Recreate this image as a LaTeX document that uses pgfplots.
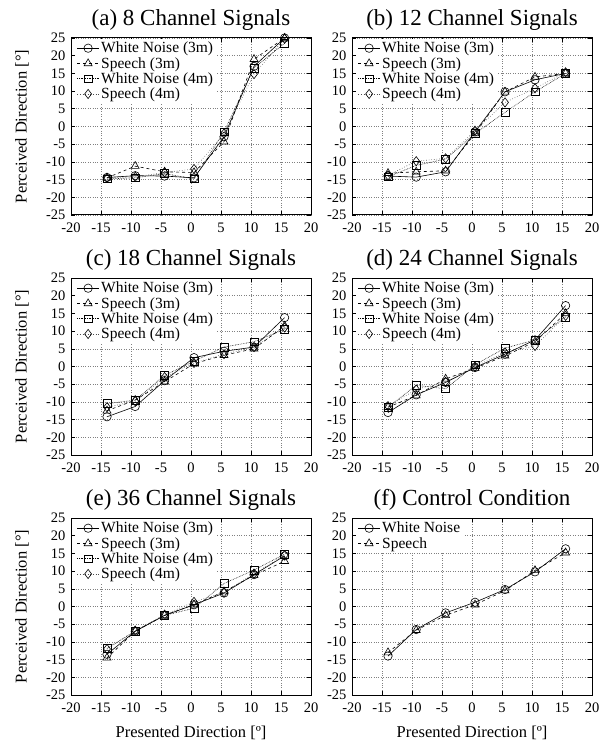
\documentclass[border=0pt]{standalone}
\usepackage{fontspec}
\setmainfont{Liberation Serif}
\usepackage{pgfplots}
\pgfplotsset{compat=1.18}
\usepackage{pgfplotstable}
\usepgfplotslibrary{groupplots}
\usetikzlibrary{calc}

\pgfplotstableread{
x wn3 s3 wn4 s4
-14.0 -14.4 -14.5 -14.8 -14.5
-9.3 -13.9 -11.2 -14.5 -14.2
-4.4 -14.0 -12.8 -13.3 -13.0
0.5 -14.5 -13.0 -14.8 -12.0
5.5 -2.9 -4.3 -1.5 -2.0
10.5 17.0 19.0 16.5 14.8
15.6 25.0 25.0 23.5 24.8
}\tabA
\pgfplotstableread{
x wn3 s3 wn4 s4
-14.0 -14.0 -13.2 -14.2 -13.8
-9.3 -14.3 -12.8 -11.0 -9.8
-4.4 -12.8 -12.5 -9.2 -9.0
0.5 -1.5 -2.0 -2.0 -1.2
5.5 9.8 9.8 4.0 6.8
10.5 13.2 14.0 9.8 10.8
15.6 15.0 15.0 15.0 15.3
}\tabB
\pgfplotstableread{
x wn3 s3 wn4 s4
-14.0 -14.2 -12.5 -10.5 -11.5
-9.3 -11.3 -9.5 -9.5 -9.8
-4.4 -4.0 -4.3 -2.5 -3.0
0.5 2.5 0.8 1.5 1.0
5.5 4.3 3.2 5.5 3.5
10.5 5.5 5.0 7.0 5.5
15.6 13.8 11.5 10.5 11.0
}\tabC
\pgfplotstableread{
x wn3 s3 wn4 s4
-14.0 -13.0 -11.5 -11.5 -11.2
-9.3 -8.0 -8.2 -5.3 -6.5
-4.4 -4.5 -3.5 -6.3 -4.3
0.5 -0.3 -0.5 0.5 0.0
5.5 3.5 3.0 5.2 4.0
10.5 7.5 7.0 7.5 5.8
15.6 17.2 15.0 14.0 14.3
}\tabD
\pgfplotstableread{
x wn3 s3 wn4 s4
-14.0 -13.5 -14.5 -11.8 -12.0
-9.3 -7.0 -7.0 -7.0 -6.8
-4.4 -2.5 -2.5 -2.5 -2.3
0.5 0.5 0.5 -0.5 1.3
5.5 3.8 4.2 6.5 4.0
10.5 9.0 8.8 10.3 9.3
15.6 14.3 12.8 14.8 14.5
}\tabE
\pgfplotstableread{
x wn s
-14.0 -14.0 -13.0
-9.3 -6.5 -6.7
-4.4 -1.8 -2.5
0.5 1.2 0.5
5.5 4.8 4.5
10.5 9.8 10.2
15.6 16.3 15.2
}\tabF

\tikzset{
  wnA/.style={black, line width=0.6pt, solid, mark=o, mark size=4.2pt, mark options={solid, fill=white}},
  sA/.style={black, line width=0.6pt, dashed, mark=triangle, mark size=4.6pt, mark options={solid, fill=white}},
  wnB/.style={black, line width=0.6pt, densely dotted, mark=square, mark size=3.9pt, mark options={solid, fill=white}},
  sB/.style={black!70, line width=0.6pt, dotted, mark=diamond, mark size=4.6pt, mark options={solid, black, fill=white}},
}

\begin{document}
\begin{tikzpicture}
\begin{groupplot}[
  group style={group size=2 by 3, horizontal sep=41pt, vertical sep=63pt},
  scale only axis, width=240pt, height=177pt,
  xmin=-20, xmax=20, ymin=-25, ymax=25,
  xtick={-20,-15,...,20}, ytick={-25,-20,...,25},
  grid=major, grid style={dotted, black!50, line width=0.6pt},
  axis line style={line width=1pt},
  tick align=inside, major tick length=4pt, tick style={black, line width=0.6pt},
  ticklabel style={font=\fontsize{14.5}{14.5}\selectfont},
  xticklabel style={yshift=-4pt},
  yticklabel style={xshift=-2pt},
  /pgf/number format/assume math mode=true,
  title style={font=\fontsize{23}{23}\selectfont, yshift=-2pt},
  label style={font=\fontsize{16.5}{16.5}\selectfont},
  ylabel style={at={(axis description cs:-0.204,0.5)}, anchor=center},
  xlabel style={at={(axis description cs:0.5,-0.212)}, anchor=center},
  legend style={at={(0.02,0.995)}, anchor=north west, draw=none, fill=white,
    font=\fontsize{15.5}{15.5}\selectfont, inner sep=1pt, row sep=-1pt},
  legend cell align=left,
  legend image code/.code={\draw[mark repeat=2,mark phase=2,#1] plot coordinates {(0cm,0cm) (0.38cm,0cm) (0.76cm,0cm)};},
]
\nextgroupplot[title={(a) 8 Channel Signals}, ylabel={Perceived Direction [°]}]
\addplot[wnA] table[x=x,y=wn3]{\tabA};
\addplot[sA] table[x=x,y=s3]{\tabA};
\addplot[wnB] table[x=x,y=wn4]{\tabA};
\addplot[sB] table[x=x,y=s4]{\tabA};
\legend{White Noise (3m), Speech (3m), White Noise (4m), Speech (4m)}
\nextgroupplot[title={(b) 12 Channel Signals}]
\addplot[wnA] table[x=x,y=wn3]{\tabB};
\addplot[sA] table[x=x,y=s3]{\tabB};
\addplot[wnB] table[x=x,y=wn4]{\tabB};
\addplot[sB] table[x=x,y=s4]{\tabB};
\legend{White Noise (3m), Speech (3m), White Noise (4m), Speech (4m)}
\nextgroupplot[title={(c) 18 Channel Signals}, ylabel={Perceived Direction [°]}]
\addplot[wnA] table[x=x,y=wn3]{\tabC};
\addplot[sA] table[x=x,y=s3]{\tabC};
\addplot[wnB] table[x=x,y=wn4]{\tabC};
\addplot[sB] table[x=x,y=s4]{\tabC};
\legend{White Noise (3m), Speech (3m), White Noise (4m), Speech (4m)}
\nextgroupplot[title={(d) 24 Channel Signals}]
\addplot[wnA] table[x=x,y=wn3]{\tabD};
\addplot[sA] table[x=x,y=s3]{\tabD};
\addplot[wnB] table[x=x,y=wn4]{\tabD};
\addplot[sB] table[x=x,y=s4]{\tabD};
\legend{White Noise (3m), Speech (3m), White Noise (4m), Speech (4m)}
\nextgroupplot[title={(e) 36 Channel Signals}, ylabel={Perceived Direction [°]}, xlabel={Presented Direction [º]}]
\addplot[wnA] table[x=x,y=wn3]{\tabE};
\addplot[sA] table[x=x,y=s3]{\tabE};
\addplot[wnB] table[x=x,y=wn4]{\tabE};
\addplot[sB] table[x=x,y=s4]{\tabE};
\legend{White Noise (3m), Speech (3m), White Noise (4m), Speech (4m)}
\nextgroupplot[title={(f) Control Condition}, xlabel={Presented Direction [º]}]
\addplot[wnA] table[x=x,y=wn]{\tabF};
\addplot[sA] table[x=x,y=s]{\tabF};
\legend{White Noise, Speech}
\end{groupplot}
\useasboundingbox ($(group c1r1.north west)+(-71pt,38pt)$) rectangle ($(group c2r3.south east)+(22pt,-52pt)$);
\end{tikzpicture}
\end{document}
